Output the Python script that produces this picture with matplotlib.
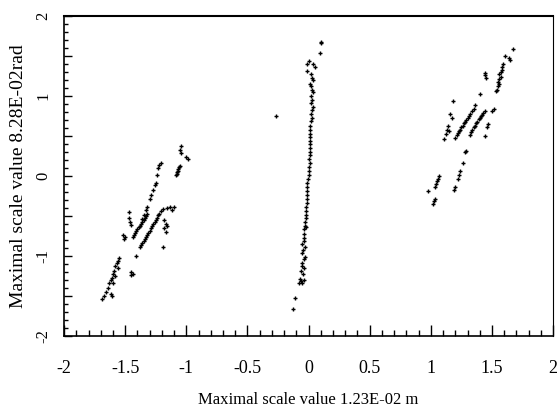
import matplotlib.pyplot as plt
from matplotlib.ticker import MultipleLocator

# Left cluster (x, y)
left_x = [-1.04, -1.05, -1.04, -0.99, -1.0,
          -1.085, -1.08, -1.075, -1.07, -1.065, -1.06, -1.055,
          -1.21, -1.22, -1.23, -1.24, -1.25, -1.26, -1.27, -1.29, -1.30, -1.32, -1.33, -1.35, -1.36,
          -1.47, -1.47, -1.46, -1.45, -1.52, -1.51, -1.50,
          -1.44, -1.43, -1.42, -1.41, -1.40, -1.39, -1.38, -1.37, -1.36, -1.35, -1.34, -1.33, -1.32,
          -1.38, -1.37, -1.36, -1.35, -1.34, -1.33, -1.32, -1.31, -1.30, -1.29, -1.28, -1.27, -1.26,
          -1.25, -1.24, -1.23, -1.22, -1.21,
          -1.19, -1.16, -1.13, -1.10, -1.12, -1.18, -1.17, -1.18, -1.17, -1.16, -1.19,
          -1.41, -1.45, -1.45, -1.44,
          -1.55, -1.56, -1.57, -1.58, -1.56, -1.59, -1.60, -1.58, -1.61, -1.62, -1.63, -1.60,
          -1.64, -1.66, -1.62, -1.61, -1.69, -1.67]
left_y = [0.38, 0.33, 0.29, 0.22, 0.24,
          0.01, 0.03, 0.05, 0.07, 0.09, 0.11, 0.13,
          0.17, 0.14, 0.10, 0.01, -0.08, -0.11, -0.17, -0.23, -0.28, -0.38, -0.42, -0.48, -0.53,
          -0.45, -0.52, -0.57, -0.61, -0.74, -0.78, -0.76,
          -0.76, -0.73, -0.71, -0.69, -0.66, -0.64, -0.62, -0.60, -0.57, -0.55, -0.52, -0.50, -0.47,
          -0.89, -0.86, -0.84, -0.81, -0.79, -0.76, -0.73, -0.71, -0.68, -0.65, -0.62, -0.60, -0.57,
          -0.55, -0.52, -0.49, -0.47, -0.44,
          -0.41, -0.40, -0.39, -0.38, -0.42, -0.55, -0.60, -0.65, -0.70, -0.62, -0.89,
          -1.00, -1.20, -1.24, -1.22,
          -1.02, -1.06, -1.09, -1.12, -1.15, -1.18, -1.22, -1.25, -1.27, -1.30, -1.33, -1.33,
          -1.40, -1.45, -1.47, -1.50, -1.54, -1.50]

# Center cluster
mid_x = [0.10, 0.10, 0.09, 0.00, -0.01, 0.04, 0.05, -0.01, 0.02, 0.03, 0.04, 0.01, 0.02, 0.03,
         0.04, 0.02, 0.03, 0.02, 0.04, 0.03, 0.02, 0.025, 0.02, 0.015, 0.015, 0.01, 0.015, 0.01,
         0.01, 0.015, 0.01, 0.01, 0.005, 0.01, 0.005, 0.0, 0.0, -0.005, -0.01, -0.01, -0.015,
         -0.01, -0.015, -0.015, -0.02, -0.02, -0.025, -0.02, -0.03, -0.03, -0.035, -0.02, -0.04,
         -0.035, -0.04, -0.05, -0.03, -0.045, -0.05, -0.03, -0.04, -0.055, -0.05, -0.04, -0.06,
         -0.045, -0.07, -0.06, -0.05, -0.08, -0.04, -0.11, -0.13, -0.265]
mid_y = [1.68, 1.66, 1.54, 1.44, 1.40, 1.40, 1.36, 1.31, 1.27, 1.23, 1.20, 1.15, 1.12, 1.08,
         1.05, 1.00, 0.95, 0.92, 0.86, 0.83, 0.78, 0.73, 0.69, 0.63, 0.58, 0.53, 0.49, 0.44,
         0.40, 0.35, 0.30, 0.26, 0.21, 0.16, 0.11, 0.06, 0.02, -0.03, -0.08, -0.13, -0.18,
         -0.23, -0.28, -0.33, -0.38, -0.43, -0.48, -0.52, -0.57, -0.62, -0.66, -0.64, -0.72,
         -0.77, -0.81, -0.85, -0.88, -0.92, -0.96, -1.01, -1.04, -1.08, -1.12, -1.15, -1.18,
         -1.22, -1.28, -1.31, -1.34, -1.33, -1.30, -1.52, -1.66, 0.75]

# Right cluster
right_x = [1.67, 1.61, 1.64, 1.65, 1.59, 1.58, 1.58, 1.57, 1.56, 1.57, 1.56, 1.55, 1.56, 1.55,
           1.54, 1.53, 1.44, 1.445, 1.45, 1.40, 1.36, 1.35, 1.18, 1.16, 1.17,
           1.20, 1.21, 1.22, 1.23, 1.24, 1.25, 1.26, 1.27, 1.28, 1.29, 1.30, 1.31, 1.32, 1.34,
           1.32, 1.33, 1.34, 1.35, 1.36, 1.37, 1.38, 1.39, 1.40, 1.41, 1.42, 1.43, 1.44,
           1.50, 1.52, 1.47, 1.46, 1.44,
           1.14, 1.13, 1.12, 1.11, 1.15,
           1.29, 1.28, 1.26, 1.24, 1.23, 1.22, 1.20, 1.19,
           1.03, 1.04, 1.05, 1.06, 1.07, 0.98, 1.03, 1.02, 1.025]
right_y = [1.59, 1.50, 1.47, 1.45, 1.40, 1.36, 1.33, 1.30, 1.27, 1.24, 1.21, 1.18, 1.15, 1.12,
           1.08, 1.06, 1.29, 1.26, 1.22, 1.03, 0.89, 0.84, 0.94, 0.78, 0.73,
           0.48, 0.51, 0.54, 0.56, 0.58, 0.61, 0.63, 0.66, 0.68, 0.70, 0.73, 0.75, 0.78, 0.81,
           0.52, 0.55, 0.58, 0.61, 0.63, 0.66, 0.68, 0.71, 0.73, 0.75, 0.77, 0.79, 0.81,
           0.82, 0.84, 0.65, 0.61, 0.50,
           0.63, 0.58, 0.53, 0.47, 0.56,
           0.32, 0.30, 0.17, 0.07, 0.02, -0.04, -0.14, -0.17,
           -0.13, -0.10, -0.06, -0.03, 0.0, -0.18, -0.28, -0.35, -0.31]

x_ticks = [-2, -1.5, -1, -0.5, 0, 0.5, 1, 1.5, 2]
x_labels = ['-2', '-1.5', '-1', '-0.5', '0', '0.5', '1', '1.5', '2']
y_ticks = [-2, -1.5, -1, -0.5, 0, 0.5, 1, 1.5, 2]
y_labels = ['-2', '', '-1', '', '0', '', '1', '', '2']

plt.rcParams['font.family'] = ['Liberation Serif', 'DejaVu Serif']

fig = plt.figure(figsize=(5.57, 4.12), dpi=100)
ax = fig.add_axes([0.115, 0.184, 0.878, 0.777])

for xs, ys in [(left_x, left_y), (mid_x, mid_y), (right_x, right_y)]:
    ax.scatter(xs, ys, marker='+', s=12, linewidths=1.0, color='black')

ax.set_xlim(-2, 2)
ax.set_ylim(-2, 2)
ax.set_xticks(x_ticks, labels=x_labels)
ax.set_yticks(y_ticks, labels=y_labels, rotation=90, va='center')
ax.xaxis.set_minor_locator(MultipleLocator(0.1))
ax.yaxis.set_minor_locator(MultipleLocator(0.1))
ax.tick_params(axis='x', which='major', direction='in', length=8, width=1, pad=17, labelsize=13)
ax.tick_params(axis='x', which='minor', direction='in', length=4, width=1)
ax.tick_params(axis='y', which='major', direction='in', length=6, width=1, pad=9, labelsize=12)
ax.tick_params(axis='y', which='minor', direction='in', length=3, width=1)

ax.spines['top'].set_linewidth(1.5)
ax.spines['right'].set_linewidth(0.8)
ax.spines['left'].set_linewidth(1.2)
ax.spines['bottom'].set_linewidth(1.2)

ax.set_xlabel('Maximal scale value 1.23E-02 m', fontsize=12, labelpad=11)
ax.set_ylabel('Maximal scale value 8.28E-02rad', fontsize=14, labelpad=6)

fig.savefig('out.png', dpi=100)
